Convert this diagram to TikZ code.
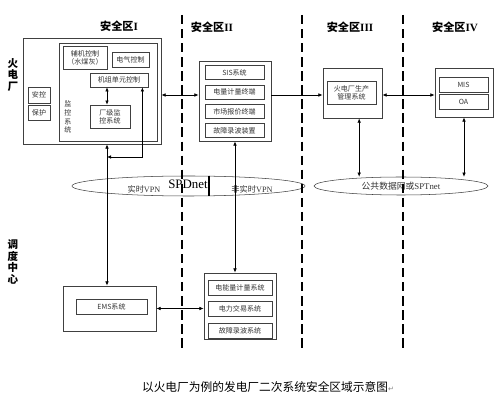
\documentclass[tikz,border=0pt]{standalone}
\usepackage{fontspec}
\setmainfont{Liberation Serif}
\newfontfamily\cjk{Noto Sans CJK SC}
\newfontfamily\arrowfont{DejaVu Sans}
\usepackage{tikz}
\usetikzlibrary{positioning, arrows.meta, fit, shapes.geometric}

\begin{document}
\begin{tikzpicture}[
    x=0.03cm, y=-0.03cm,
    node distance=0.14cm,
    box/.style={draw=black!75, line width=0.65pt, rectangle, inner sep=0pt, align=center, fill=white, text=black!80, font=\cjk\fontsize{6}{7}\selectfont},
    stackbox/.style={box, minimum width=1.77cm, minimum height=0.42cm},
    dispbox/.style={box, minimum width=1.92cm, minimum height=0.45cm},
    outerbox/.style={draw=black!75, line width=0.8pt, rectangle, inner sep=0pt},
    net/.style={draw=black!75, line width=0.45pt, ellipse, inner sep=0pt},
    zonetitle/.style={font=\cjk\bfseries\fontsize{9.5}{10}\selectfont},
    side/.style={align=center, font=\cjk\bfseries\fontsize{9}{9.8}\selectfont},
    vpn/.style={text=black!80, font=\fontsize{7}{8}\selectfont},
    zoneline/.style={line width=1.6pt, dash pattern=on 8pt off 4pt},
    arrow/.style={{Latex[length=3.5pt,width=3pt]}-{Latex[length=3.5pt,width=3pt]}, line width=0.5pt},
    rarrow/.style={-{Latex[length=3.5pt,width=3pt]}, line width=0.5pt}
]
    \useasboundingbox (0,0) rectangle (501,404);

    % zone titles and side labels
    \node[zonetitle] at (119,26) (titleI) {安全区\textrm{I}};
    \node[zonetitle] at (212,27) (titleII) {安全区\textrm{II}};
    \node[zonetitle] at (350,27) (titleIII) {安全区\textrm{III}};
    \node[zonetitle] at (455,27) (titleIV) {安全区\textrm{IV}};
    \node[side] at (13,75) (plant) {火\\电\\厂};
    \node[side] at (13,262) (dispatch) {调\\度\\中\\心};

    % zone I
    \node[outerbox, fit={(23,38) (161,144)}] (plantI) {};
    \node[outerbox, fit={(59,43) (157,141)}] (monitor) {};
    \node[box, minimum width=1.32cm, minimum height=0.69cm] at (85,57.5) (aux) {辅机控制\\（水煤灰）};
    \node[box, minimum width=1.11cm, minimum height=0.45cm] at (130.5,59.5) (elec) {电气控制};
    \node[box, minimum width=1.74cm, minimum height=0.42cm] at (119,80) (unit) {机组单元控制};
    \node[box, minimum width=1.2cm, minimum height=0.69cm] at (110,116.5) (plantmon) {厂级监\\控系统};
    \node[box, minimum width=0.66cm, minimum height=0.48cm] at (39,95) (safety) {安控};
    \node[box, minimum width=0.66cm, minimum height=0.45cm, below=0.06cm of safety] (protect) {保护};
    \node[text=black!80, font=\cjk\fontsize{6}{7.4}\selectfont, align=center] at (68,117) (montext) {监\\控\\系\\统};

    % zone II
    \node[outerbox, fit={(199,61) (271,141)}] (zoneII) {};
    \node[stackbox] at (234.5,72.5) (sisII) {SIS系统};
    \node[stackbox, below=of sisII] (meter) {电量计量终端};
    \node[stackbox, below=of meter] (quote) {市场报价终端};
    \node[stackbox, below=of quote] (recorder) {故障录波装置};

    % zone III and IV
    \node[outerbox, fit={(323,68) (382,118)}] (zoneIII) {};
    \node[box, minimum width=1.47cm, minimum height=0.69cm] at (351.5,92.5) (mgmt) {火电厂生产\\管理系统};
    \node[outerbox, fit={(435,68) (493,117)}] (zoneIV) {};
    \node[box, minimum width=1.47cm, minimum height=0.45cm] at (463.5,84.5) (mis) {MIS};
    \node[box, minimum width=1.47cm, minimum height=0.45cm, below=0.06cm of mis] (oa) {OA};

    % dispatch centre
    \node[outerbox, fit={(63,286) (156,331)}] (emsbox) {};
    \node[box, minimum width=2.13cm, minimum height=0.45cm] at (111.5,306.5) (ems) {EMS系统};
    \node[outerbox, fit={(204,273) (276,339)}] (dispII) {};
    \node[dispbox] at (240,287.5) (energy) {电能量计量系统};
    \node[dispbox, below=0.18cm of energy] (trade) {电力交易系统};
    \node[dispbox, below=0.18cm of trade] (fault) {故障录波系统};

    % networks
    \node[net, minimum width=6.99cm, minimum height=0.6cm] at (188.5,186) (spdnet) {};
    \node[vpn] at (144,189) (rtvpn) {{\cjk 实时}VPN};
    \node[font=\fontsize{11}{12}\selectfont] at (188,184) (spdlabel) {SPDnet};
    \node[vpn] at (252,189) (nrtvpn) {{\cjk 非实时}VPN};
    \coordinate (cut) at (209,0);
    \draw[line width=1.1pt] (spdnet.north -| cut) -- (spdnet.south -| cut);
    \node[net, minimum width=5.22cm, minimum height=0.54cm, text=black!80, font=\cjk\fontsize{7.5}{8}\selectfont] at (401,186) (pubnet) {公共数据网或{\rmfamily SPTnet}};

    % connections
    \coordinate (linkrow) at (0,95);
    \coordinate (tap) at (107,157);
    \draw[arrow] (plantmon.north -| tap) -- (unit.south -| tap);
    \draw[arrow] (tap) -| ([xshift=-0.18cm]unit.south east);
    \draw[arrow] (plantI.south -| tap) -- (emsbox.north -| tap);
    \draw[arrow] (plantI.east |- linkrow) -- (zoneII.west |- linkrow);
    \draw[rarrow] (zoneII.east |- linkrow) -- (zoneIII.west |- linkrow);
    \draw[arrow] (zoneIII.east |- linkrow) -- (zoneIV.west |- linkrow);
    \draw[arrow] (zoneII.south) -- (zoneII.south |- dispII.north);
    \draw[arrow] (emsbox.east) -- (emsbox.east -| dispII.west);
    \draw[arrow] ([xshift=0.2cm]zoneIII.south) -- ([xshift=0.2cm]zoneIII.south |- pubnet.north);
    \draw[arrow] (zoneIV.south) -- (zoneIV.south |- pubnet.north);

    % zone borders
    \foreach \x in {182,302,403}
        \draw[zoneline] (\x,15) -- (\x,352);

    \node[font=\cjk\fontsize{10}{12}\selectfont] at (268,387) (caption) {以火电厂为例的发电厂二次系统安全区域示意图{\color{gray}\arrowfont\fontsize{6}{7}\selectfont ↵}};
\end{tikzpicture}
\end{document}
